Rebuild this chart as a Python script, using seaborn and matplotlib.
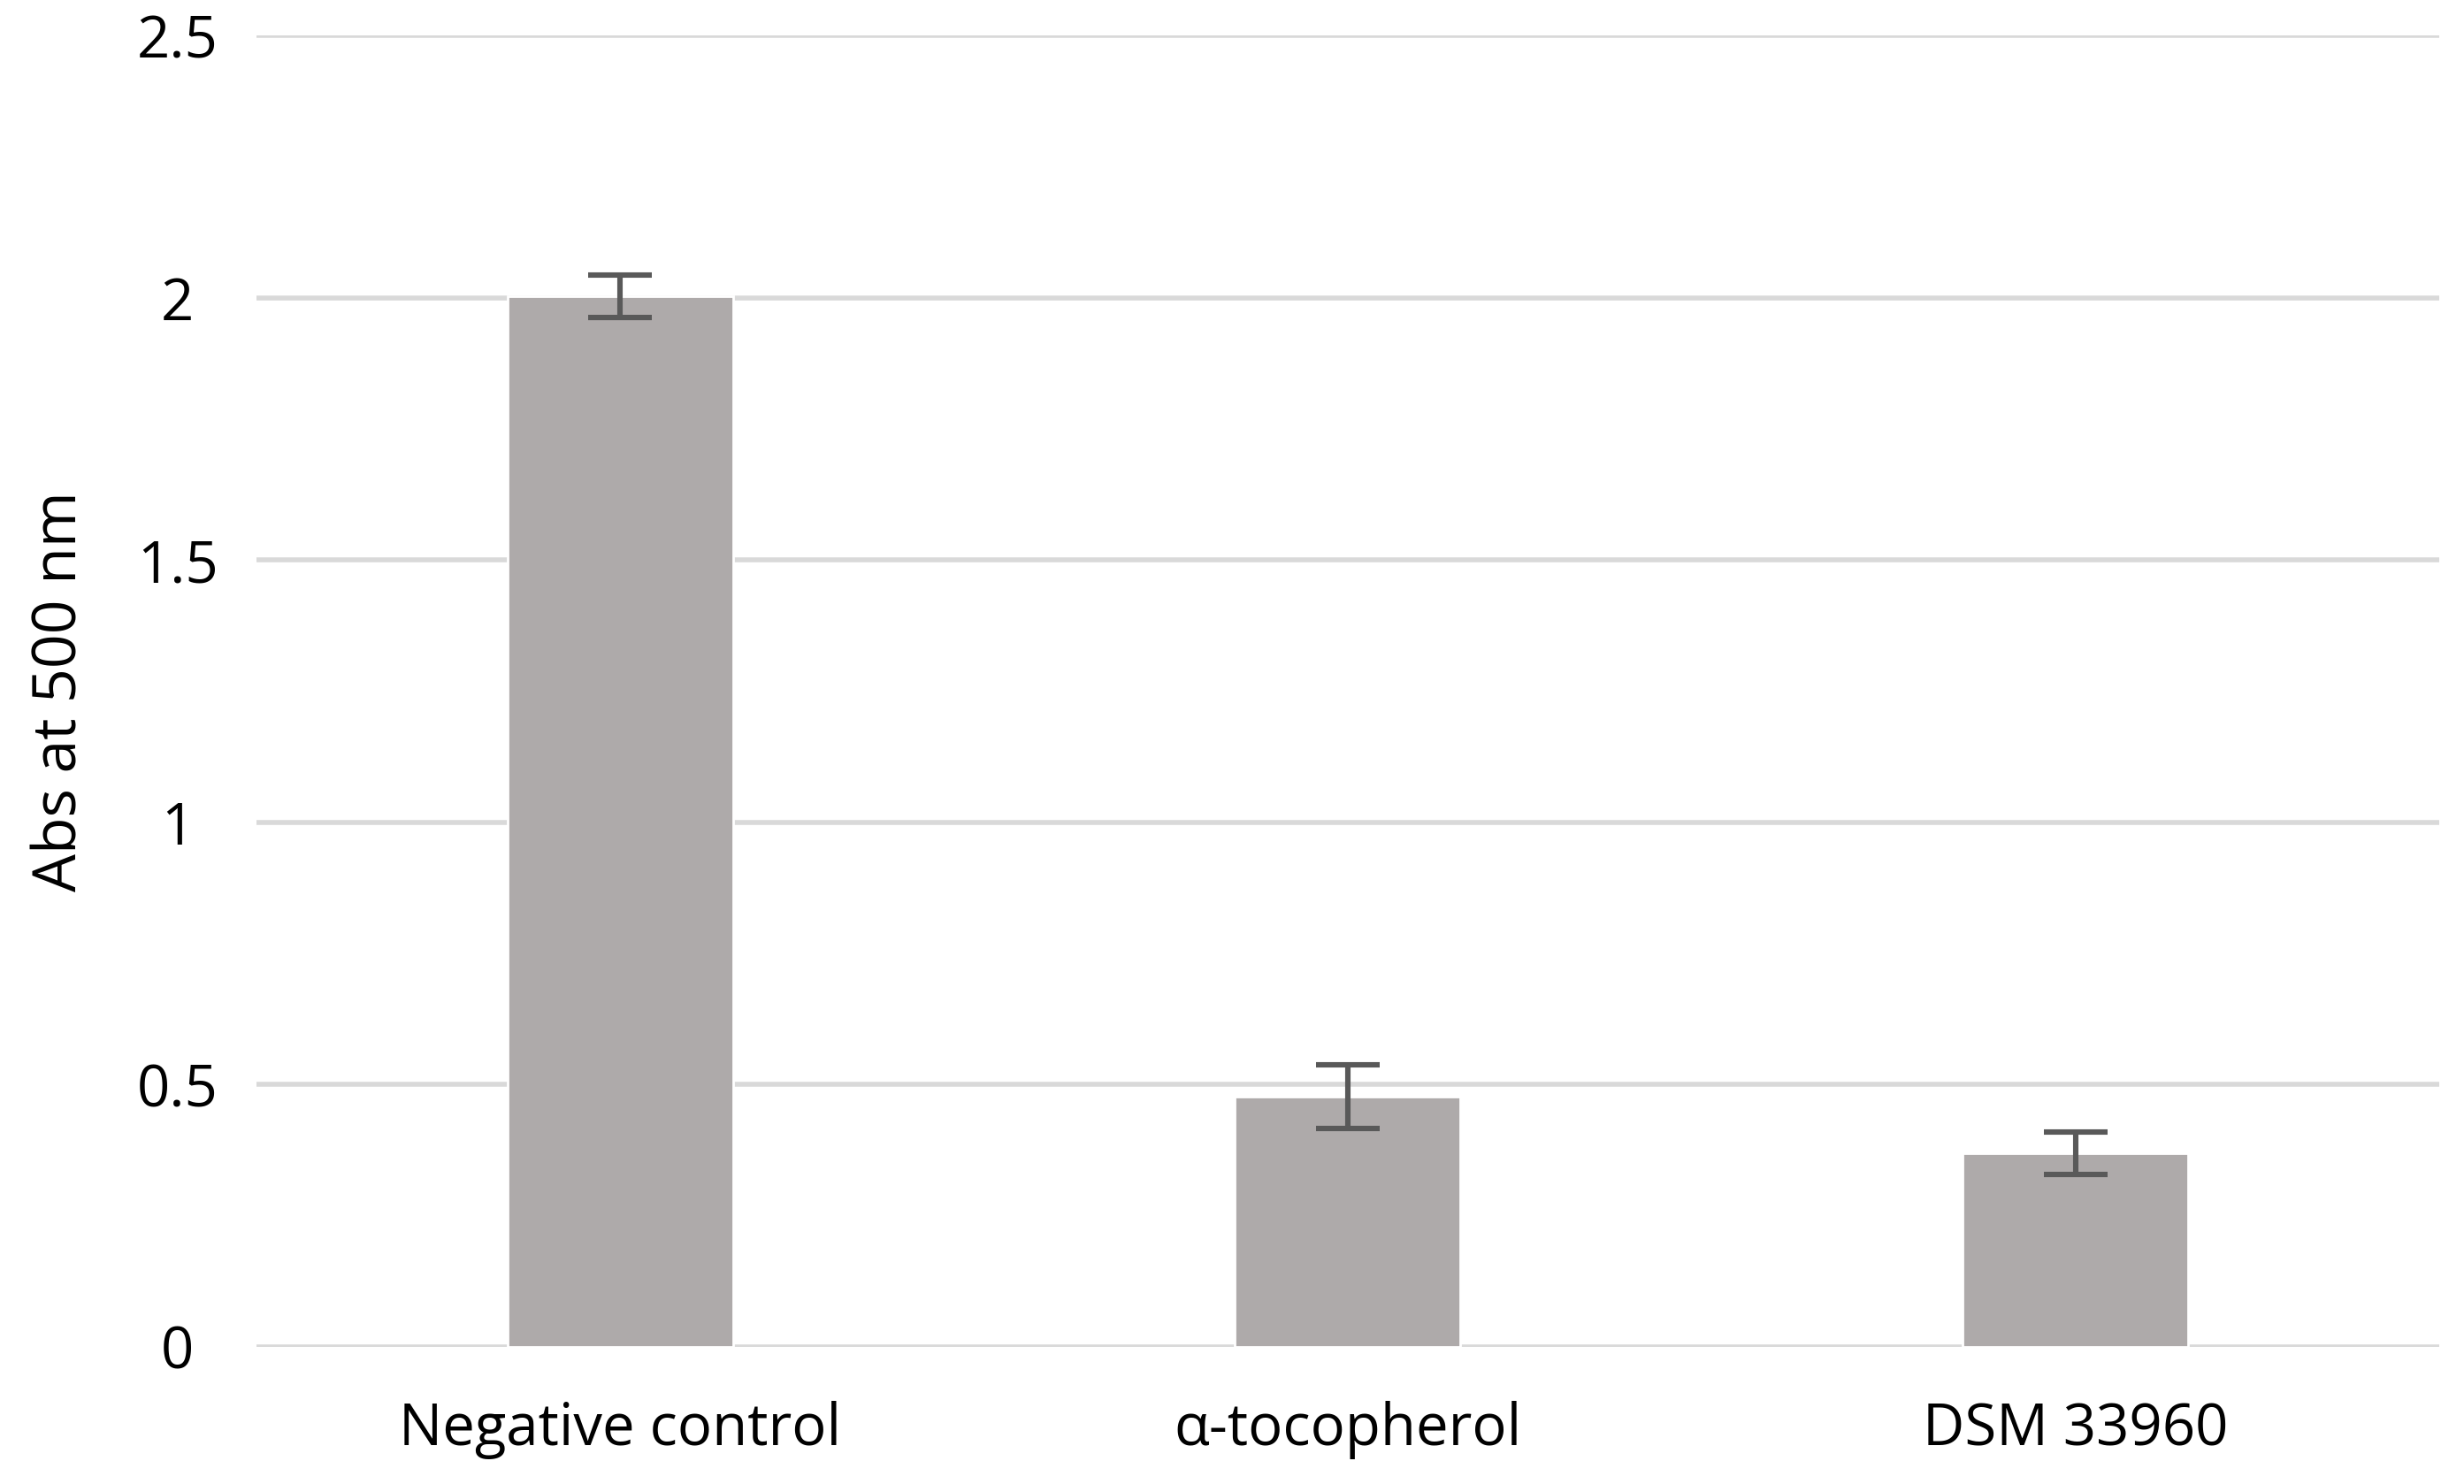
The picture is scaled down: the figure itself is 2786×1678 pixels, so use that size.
import pandas as pd
import seaborn as sns
import matplotlib.pyplot as plt

# data
groups = ["Negative control", "\u03b1-tocopherol", "DSM 33960"]
abs_500 = [2.003, 0.477, 0.369]
abs_err = [0.040, 0.061, 0.040]
y_ticks = [0, 0.5, 1, 1.5, 2, 2.5]
y_tick_labels = ["0", "0.5", "1", "1.5", "2", "2.5"]

df = pd.DataFrame({"group": groups, "abs": abs_500, "err": abs_err})

sns.set_style("white")
plt.rcParams["font.family"] = ["Open Sans", "DejaVu Sans"]

fig = plt.figure(figsize=(13.93, 8.39), dpi=200)
ax = fig.add_axes([0.104, 0.0924, 0.886, 0.8836])

sns.barplot(data=df, x="group", y="abs", color="#AEAAAA", saturation=1,
            width=0.31, errorbar=None, ax=ax, zorder=2)
ax.errorbar(range(len(groups)), df["abs"], yerr=df["err"], fmt="none",
            ecolor="#595959", elinewidth=2.2, capsize=13, capthick=2.2, zorder=3)

ax.set_ylim(0, 2.5)
ax.set_xlim(-0.5, len(groups) - 0.5)
ax.set_yticks(y_ticks)
ax.set_yticklabels(y_tick_labels, ha="center")
ax.yaxis.grid(True, color="#D9D9D9", lw=2)
ax.set_axisbelow(True)
for s in ax.spines.values():
    s.set_visible(False)

fs = 23.5
ax.tick_params(axis="y", length=0, pad=32, labelsize=fs, labelcolor="black")
ax.tick_params(axis="x", length=0, pad=22, labelsize=fs, labelcolor="black")
ax.set_xlabel("")
ax.set_ylabel("Abs at 500 nm", fontsize=fs + 1, color="black")
ax.yaxis.set_label_coords(-0.076, 0.5)

fig.savefig("out.png", dpi=200)
